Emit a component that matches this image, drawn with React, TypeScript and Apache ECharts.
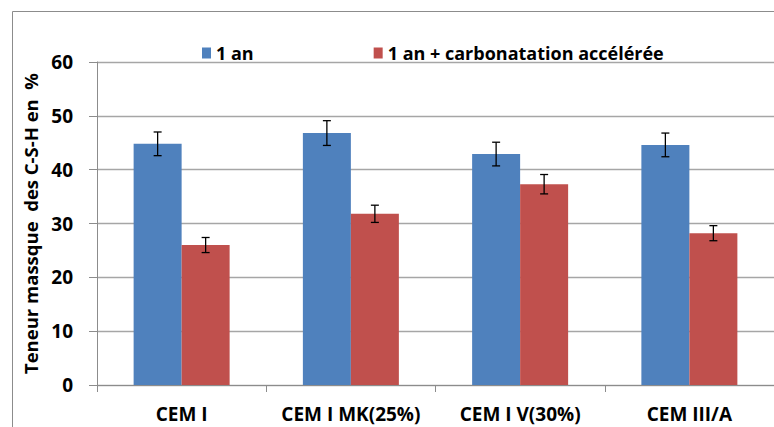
import React, { useEffect, useRef } from "react";
import * as echarts from "echarts";

const categories = ["CEM I", "CEM I MK(25%)", "CEM I V(30%)", "CEM III/A"];
const seriesNames = ["1 an", "1 an + carbonatation accélérée"];
const valuesOneYear = [44.8, 46.8, 42.9, 44.6];
const valuesCarbonated = [26.0, 31.8, 37.3, 28.2];
const errOneYear = [2.2, 2.3, 2.2, 2.2];
const errCarbonated = [1.4, 1.6, 1.8, 1.4];
const yTicks = [0, 10, 20, 30, 40, 50, 60];

const FONT = "'Open Sans', 'Liberation Sans', sans-serif";

export default function App() {
  const ref = useRef<HTMLDivElement>(null);
  useEffect(() => {
    if (!ref.current) return;
    const chart = echarts.init(ref.current, null, { renderer: "svg" });
    const barW = 48;
    const errData = (vals: number[], errs: number[]) =>
      vals.map((v, i) => [i, v - errs[i], v + errs[i]]);
    const makeErr = (offsetSign: number) => (params: any, api: any) => {
      const idx = api.value(0);
      const lo = api.coord([idx, api.value(1)]);
      const hi = api.coord([idx, api.value(2)]);
      const x = lo[0] + offsetSign * (barW / 2);
      const cap = 4;
      const style = { stroke: "#000", lineWidth: 1.3 };
      return {
        type: "group",
        children: [
          { type: "line", shape: { x1: x, y1: lo[1], x2: x, y2: hi[1] }, style },
          { type: "line", shape: { x1: x - cap, y1: lo[1], x2: x + cap, y2: lo[1] }, style },
          { type: "line", shape: { x1: x - cap, y1: hi[1], x2: x + cap, y2: hi[1] }, style },
        ],
      };
    };
    chart.setOption({
      animation: false,
      backgroundColor: "#fff",
      graphic: [
        {
          type: "rect",
          shape: { x: 12.5, y: 11.5, width: 800, height: 500 },
          style: { fill: "none", stroke: "#8c8c8c", lineWidth: 1 },
        },
      ],
      legend: {
        left: 197,
        top: 39,
        itemWidth: 9,
        itemHeight: 11,
        itemGap: 120,
        icon: "rect",
        textStyle: { fontFamily: FONT, fontWeight: "bold", fontSize: 18, color: "#000" },
        data: seriesNames,
      },
      grid: { left: 97, top: 62, width: 680, height: 323 },
      xAxis: {
        type: "category",
        data: categories,
        axisLine: { lineStyle: { color: "#8c8c8c" } },
        axisTick: { show: true, length: 7, lineStyle: { color: "#8c8c8c" } },
        axisLabel: {
          interval: 0,
          margin: 19,
          fontFamily: FONT,
          fontWeight: "bold",
          fontSize: 19,
          color: "#000",
        },
      },
      yAxis: {
        type: "value",
        min: 0,
        max: 60,
        interval: 10,
        name: "Teneur massque  des C-S-H en  %",
        nameLocation: "middle",
        nameGap: 55,
        nameRotate: 90,
        nameTextStyle: { fontFamily: FONT, fontWeight: "bold", fontSize: 18.5, color: "#000" },
        axisLine: { show: true, lineStyle: { color: "#8c8c8c" } },
        axisTick: { show: true, length: 8, lineStyle: { color: "#8c8c8c" } },
        splitLine: { lineStyle: { color: "#a6a6a6", width: 1.3 } },
        axisLabel: {
          margin: 24,
          fontFamily: FONT,
          fontWeight: "bold",
          fontSize: 19,
          color: "#000",
          formatter: (v: number) => (yTicks.includes(v) ? String(v) : ""),
        },
      },
      series: [
        {
          name: seriesNames[0],
          type: "bar",
          data: valuesOneYear,
          barWidth: barW,
          barGap: "0%",
          itemStyle: { color: "#4f81bd" },
        },
        {
          name: seriesNames[1],
          type: "bar",
          data: valuesCarbonated,
          barWidth: barW,
          barGap: "0%",
          itemStyle: { color: "#c0504d" },
        },
        {
          type: "custom",
          renderItem: makeErr(-1),
          data: errData(valuesOneYear, errOneYear),
          encode: { x: 0, y: [1, 2] },
          z: 10,
        },
        {
          type: "custom",
          renderItem: makeErr(1),
          data: errData(valuesCarbonated, errCarbonated),
          encode: { x: 0, y: [1, 2] },
          z: 10,
        },
      ],
    });
    return () => chart.dispose();
  }, []);
  return (
    <div
      ref={ref}
      style={{ position: "absolute", left: 0, top: 0, width: 774, height: 427 }}
    />
  );
}
